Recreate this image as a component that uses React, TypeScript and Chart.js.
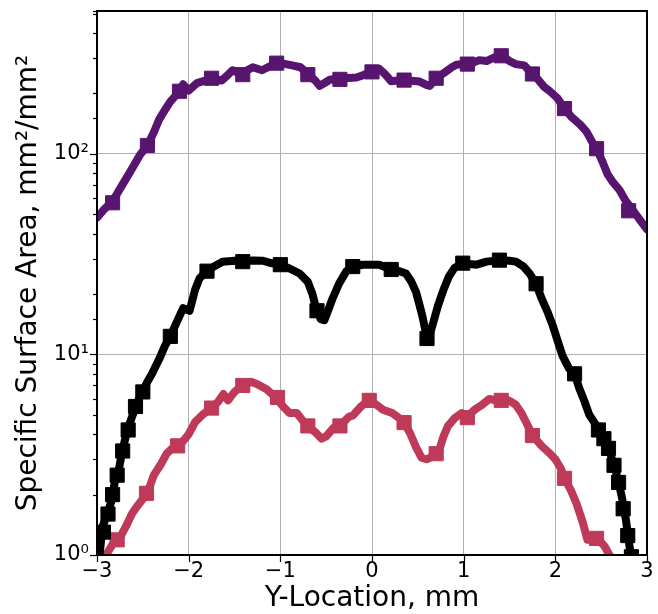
import React, { useEffect, useRef } from "react";
import { Chart, registerables } from "chart.js";

Chart.register(...registerables);

// ---------------- data ----------------
const purpleX = [-3.0, -2.92, -2.83, -2.74, -2.64, -2.53, -2.45, -2.38, -2.32, -2.26, -2.2, -2.12, -2.06, -2.0, -1.91, -1.82, -1.75, -1.64, -1.57, -1.52, -1.45, -1.38, -1.3, -1.2, -1.1, -1.02, -0.94, -0.87, -0.78, -0.7, -0.62, -0.57, -0.5, -0.46, -0.4, -0.3, -0.17, -0.1, -0.03, 0.03, 0.08, 0.14, 0.21, 0.28, 0.35, 0.43, 0.52, 0.6, 0.63, 0.7, 0.78, 0.86, 0.92, 1.0, 1.08, 1.17, 1.25, 1.33, 1.41, 1.5, 1.57, 1.66, 1.72, 1.8, 1.88, 1.93, 2.02, 2.1, 2.18, 2.27, 2.34, 2.4, 2.45, 2.52, 2.57, 2.63, 2.7, 2.77, 2.85, 2.92, 3.0];
const purpleY = [48, 53, 58, 68, 81, 99, 110, 128, 149, 165, 182, 200, 222, 207, 225, 232, 238, 232, 248, 261, 252, 258, 270, 261, 275, 284, 280, 276, 270, 250, 232, 218, 228, 234, 236, 238, 240, 246, 255, 257, 265, 250, 230, 232, 233, 231, 229, 220, 218, 238, 252, 268, 278, 280, 282, 293, 290, 302, 310, 290, 280, 276, 258, 238, 215, 207, 190, 168, 152, 140, 129, 115, 106, 90, 79, 72, 66, 58, 52, 47, 42];
const purpleMarkX = [-2.83, -2.45, -2.1, -1.75, -1.41, -1.04, -0.7, -0.35, 0.0, 0.35, 0.7, 1.04, 1.41, 1.75, 2.1, 2.45, 2.8];
const purpleMarkY = [57, 110, 205, 238, 248, 283, 248, 235, 256, 233, 238, 280, 308, 250, 168, 106, 52];

const blackX = [-3.0, -2.97, -2.94, -2.9, -2.84, -2.8, -2.76, -2.73, -2.67, -2.61, -2.53, -2.45, -2.4, -2.32, -2.26, -2.2, -2.13, -2.06, -1.99, -1.93, -1.88, -1.8, -1.72, -1.63, -1.5, -1.41, -1.3, -1.19, -1.1, -1.0, -0.9, -0.79, -0.7, -0.65, -0.61, -0.56, -0.52, -0.48, -0.43, -0.36, -0.28, -0.21, -0.1, 0.0, 0.08, 0.21, 0.3, 0.37, 0.43, 0.48, 0.52, 0.55, 0.6, 0.63, 0.67, 0.72, 0.78, 0.84, 0.9, 0.99, 1.07, 1.14, 1.25, 1.39, 1.5, 1.57, 1.65, 1.72, 1.79, 1.85, 1.91, 1.97, 2.03, 2.08, 2.15, 2.21, 2.26, 2.32, 2.37, 2.45, 2.55, 2.6, 2.66, 2.7, 2.73, 2.77, 2.81, 2.85];
const blackY = [0.9, 1.02, 1.38, 1.55, 1.87, 2.4, 2.7, 3.2, 4.2, 5.0, 6.2, 7.3, 8.0, 9.5, 11.0, 12.3, 14.5, 17, 16.5, 21, 24, 26, 27.5, 29, 29.3, 29, 29.4, 29.3, 28.5, 28, 26.8, 25.3, 23, 20, 17, 15, 14.8, 16.5, 19, 22.5, 26, 27.4, 28, 28, 28, 26.5, 26, 25.3, 23, 20.5, 17.5, 15.5, 12, 12.5, 14.5, 17.5, 21, 24.5, 27, 28.5, 28.2, 28, 29, 29.5, 29.3, 29, 27.5, 25.3, 22.5, 19, 16.5, 14, 11.5, 9.8, 8.5, 8.0, 6.8, 5.8, 5.0, 4.4, 3.7, 3.2, 2.6, 2.2, 1.9, 1.5, 1.1, 0.9];
const blackMarkX = [-2.93, -2.88, -2.83, -2.78, -2.72, -2.66, -2.58, -2.5, -2.2, -1.8, -1.41, -1.0, -0.6, -0.21, 0.21, 0.6, 0.99, 1.39, 1.79, 2.21, 2.47, 2.53, 2.58, 2.64, 2.69, 2.74, 2.79, 2.83];
const blackMarkY = [1.3, 1.6, 2.0, 2.5, 3.3, 4.2, 5.5, 6.5, 12.3, 26, 29, 28, 16.5, 27.4, 26.5, 12, 28.5, 29.5, 22.5, 8.0, 4.2, 3.8, 3.4, 2.8, 2.3, 1.7, 1.25, 0.98];

const redX = [-2.92, -2.89, -2.82, -2.75, -2.68, -2.62, -2.57, -2.5, -2.44, -2.38, -2.3, -2.24, -2.18, -2.12, -2.06, -2.0, -1.93, -1.85, -1.75, -1.68, -1.62, -1.57, -1.5, -1.41, -1.32, -1.25, -1.15, -1.05, -0.97, -0.9, -0.82, -0.76, -0.7, -0.62, -0.55, -0.5, -0.42, -0.35, -0.25, -0.21, -0.12, -0.03, 0.05, 0.12, 0.22, 0.3, 0.35, 0.42, 0.48, 0.54, 0.6, 0.66, 0.72, 0.78, 0.83, 0.9, 0.98, 1.04, 1.12, 1.2, 1.28, 1.35, 1.45, 1.52, 1.57, 1.63, 1.68, 1.75, 1.85, 1.93, 2.0, 2.06, 2.1, 2.17, 2.23, 2.3, 2.35, 2.42, 2.47, 2.54, 2.59, 2.65];
const redY = [0.95, 1.02, 1.15, 1.22, 1.4, 1.6, 1.73, 1.9, 2.1, 2.5, 2.85, 3.2, 3.4, 3.5, 3.7, 4.0, 4.6, 5.0, 5.4, 5.8, 6.35, 5.9, 6.5, 7.0, 7.3, 7.1, 6.7, 6.1, 5.5, 5.1, 5.1, 4.7, 4.4, 4.1, 3.8, 3.9, 4.3, 4.4, 4.9, 4.95, 5.5, 5.9, 5.6, 5.3, 5.1, 4.8, 4.6, 4.0, 3.45, 3.06, 3.0, 3.1, 3.2, 3.9, 4.4, 4.8, 5.1, 4.9, 5.3, 5.6, 6.0, 5.9, 6.0, 5.8, 5.6, 5.1, 4.6, 3.95, 3.5, 3.24, 3.0, 2.7, 2.41, 2.1, 1.81, 1.45, 1.19, 1.2, 1.2, 1.1, 1.0, 0.92];
const redMarkX = [-2.78, -2.46, -2.12, -1.75, -1.41, -1.03, -0.7, -0.35, -0.03, 0.35, 0.7, 1.04, 1.41, 1.75, 2.1, 2.45];
const redMarkY = [1.19, 2.03, 3.5, 5.4, 7.0, 6.1, 4.4, 4.4, 5.9, 4.57, 3.2, 4.84, 5.9, 3.94, 2.41, 1.21];

const xTicks = [-3, -2, -1, 0, 1, 2, 3];
const yTickLabels: Record<number, string> = { 1: "10⁰", 10: "10¹", 100: "10²" };

const PURPLE = "#58156f";
const RED = "#bf3a59";
const BLACK = "#000000";

const pts = (xs: number[], ys: number[]) => xs.map((x, i) => ({ x, y: ys[i] }));

const lineDs = (xs: number[], ys: number[], color: string) => ({
  data: pts(xs, ys),
  borderColor: color,
  backgroundColor: color,
  borderWidth: 8,
  borderJoinStyle: "round" as const,
  borderCapStyle: "round" as const,
  pointRadius: 0,
  tension: 0,
  showLine: true,
  clip: 0,
});
const markDs = (xs: number[], ys: number[], color: string) => ({
  data: pts(xs, ys),
  borderColor: color,
  backgroundColor: color,
  showLine: false,
  pointStyle: "rect" as const,
  pointRadius: 10,
  borderWidth: 1,
  clip: 0,
});

const isMajor = (v: number) => Math.abs(Math.log10(v) - Math.round(Math.log10(v))) < 1e-9;

const framePlugin = {
  id: "frameTicks",
  afterDraw(chart: any) {
    const { ctx, chartArea: a, scales } = chart;
    ctx.save();
    ctx.strokeStyle = "#000";
    ctx.lineWidth = 1.2;
    scales.y.ticks.forEach((t: any) => {
      const py = scales.y.getPixelForValue(t.value);
      if (py < a.top - 0.5 || py > a.bottom + 0.5) return;
      const len = isMajor(t.value) ? 7 : 4;
      ctx.beginPath();
      ctx.moveTo(a.left, Math.round(py) + 0.5);
      ctx.lineTo(a.left - len, Math.round(py) + 0.5);
      ctx.stroke();
    });
    xTicks.forEach((v) => {
      const px = scales.x.getPixelForValue(v);
      ctx.beginPath();
      ctx.moveTo(Math.round(px) + 0.5, a.bottom);
      ctx.lineTo(Math.round(px) + 0.5, a.bottom + 7);
      ctx.stroke();
    });
    ctx.lineWidth = 2;
    ctx.strokeRect(a.left, a.top, a.right - a.left, a.bottom - a.top);
    ctx.restore();
  },
};

export default function App() {
  const ref = useRef<HTMLCanvasElement>(null);
  useEffect(() => {
    if (!ref.current) return;
    const font = "'DejaVu Sans', sans-serif";
    const chart = new Chart(ref.current, {
      type: "scatter",
      data: {
        datasets: [
          lineDs(purpleX, purpleY, PURPLE),
          markDs(purpleMarkX, purpleMarkY, PURPLE),
          lineDs(blackX, blackY, BLACK),
          markDs(blackMarkX, blackMarkY, BLACK),
          lineDs(redX, redY, RED),
          markDs(redMarkX, redMarkY, RED),
        ] as any,
      },
      options: {
        animation: false,
        responsive: false,
        events: [],
        layout: { padding: { top: 10, right: 10, left: 0, bottom: 0 } },
        plugins: { legend: { display: false }, tooltip: { enabled: false } },
        scales: {
          x: {
            type: "linear",
            min: -3,
            max: 3,
            afterBuildTicks: (s: any) => {
              s.ticks = xTicks.map((v) => ({ value: v }));
            },
            afterFit: (s: any) => {
              s.height = 59;
              s.paddingLeft = 0;
              s.paddingRight = 0;
              s.paddingTop = 0;
              s.paddingBottom = 0;
            },
            ticks: {
              autoSkip: false,
              maxRotation: 0,
              padding: 4,
              color: "#000",
              font: { family: font, size: 21 },
              callback: (v: any) => (v < 0 ? "\u2212" + Math.abs(v) : String(v)),
            },
            grid: { color: "#b0b0b0", lineWidth: 1, drawTicks: false },
            border: { display: false },
            title: {
              display: true,
              text: "Y-Location, mm",
              color: "#000",
              font: { family: font, size: 28, lineHeight: 1 },
              padding: { top: 0, bottom: 1 },
            },
          },
          y: {
            type: "logarithmic",
            min: 1,
            max: 515,
            afterFit: (s: any) => {
              s.width = 97;
              s.paddingLeft = 0;
              s.paddingRight = 0;
              s.paddingTop = 0;
              s.paddingBottom = 0;
            },
            ticks: {
              autoSkip: false,
              padding: 8,
              color: "#000",
              font: { family: font, size: 21 },
              callback: (v: any) => yTickLabels[v as number] ?? "",
            },
            grid: {
              color: (c: any) => (c.tick && isMajor(c.tick.value) ? "#b0b0b0" : "rgba(0,0,0,0)"),
              lineWidth: 1,
              drawTicks: false,
            },
            border: { display: false },
            title: {
              display: true,
              text: "Specific Surface Area, mm²/mm²",
              color: "#000",
              font: { family: font, size: 28, lineHeight: 1 },
              padding: { top: 15, bottom: 0 },
            },
          },
        },
      },
      plugins: [framePlugin],
    });
    return () => chart.destroy();
  }, []);
  return (
    <div style={{ position: "fixed", left: 0, top: 0, width: 658, height: 614, background: "#fff" }}>
      <canvas ref={ref} width={658} height={614} style={{ display: "block", width: 658, height: 614 }} />
    </div>
  );
}
